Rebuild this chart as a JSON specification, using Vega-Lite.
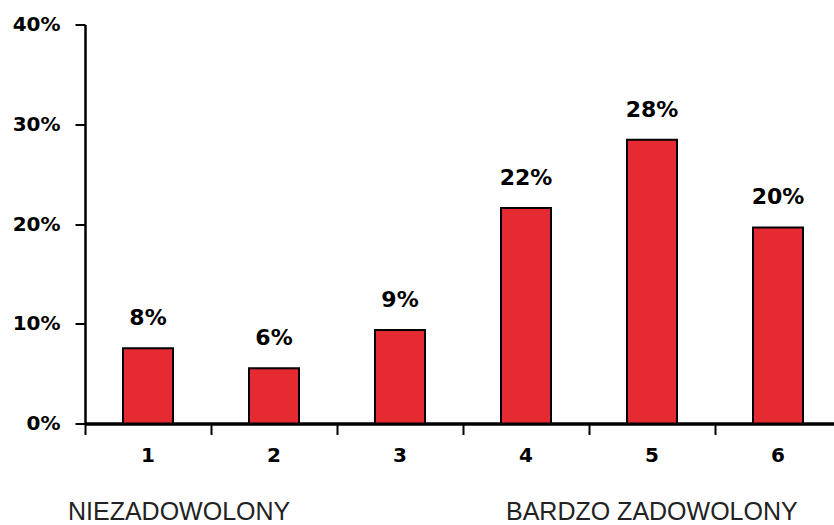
{
  "$schema": "https://vega.github.io/schema/vega-lite/v6.json",
  "autosize": {"type": "none"},
  "width": 749,
  "height": 399,
  "padding": {"left": 85, "top": 24.5, "right": 0, "bottom": 101.5},
  "background": "white",
  "config": {"view": {"stroke": null}, "font": "DejaVu Sans"},
  "datasets": {
    "bars": [
      {"cat": "1", "value": 7.55, "label": "8%"},
      {"cat": "2", "value": 5.54, "label": "6%"},
      {"cat": "3", "value": 9.38, "label": "9%"},
      {"cat": "4", "value": 21.6, "label": "22%"},
      {"cat": "5", "value": 28.45, "label": "28%"},
      {"cat": "6", "value": 19.65, "label": "20%"}
    ],
    "notes": [
      {"cat": "1", "note": "NIEZADOWOLONY", "pos": -9.67},
      {"cat": "4", "note": "BARDZO ZADOWOLONY", "pos": -9.67}
    ]
  },
  "layer": [
    {
      "data": {"name": "bars"},
      "encoding": {
        "x": {
          "field": "cat", "type": "ordinal",
          "scale": {"range": [0, 756], "paddingInner": 0, "paddingOuter": 0},
          "axis": {
            "title": null, "labelAngle": 0, "bandPosition": 0,
            "domainColor": "black", "domainWidth": 3.5,
            "tickColor": "black", "tickWidth": 2, "tickSize": 11,
            "labelFont": "DejaVu Sans", "labelFontWeight": "bold", "labelFontSize": 20,
            "labelColor": "black", "labelPadding": 11, "labelBaseline": "top"
          }
        },
        "y": {
          "field": "value", "type": "quantitative",
          "scale": {"domain": [0, 40], "nice": false, "zero": true},
          "axis": {
            "title": null, "values": [0, 10, 20, 30, 40], "grid": false,
            "labelExpr": "datum.value + '%'",
            "domainColor": "black", "domainWidth": 2.5,
            "tickColor": "black", "tickWidth": 2, "tickSize": 10,
            "labelFont": "DejaVu Sans", "labelFontWeight": "bold", "labelFontSize": 20,
            "labelColor": "black", "labelPadding": 15
          }
        }
      },
      "layer": [
        {"mark": {"type": "bar", "width": 50, "fill": "#E52A31", "stroke": "black", "strokeWidth": 2}},
        {
          "mark": {"type": "text", "baseline": "alphabetic", "dy": -23, "font": "DejaVu Sans", "fontWeight": "bold", "fontSize": 22, "fill": "black"},
          "encoding": {"text": {"field": "label"}}
        }
      ]
    },
    {
      "data": {"name": "notes"},
      "transform": [{"filter": "datum.cat == '1'"}],
      "mark": {"type": "text", "align": "left", "baseline": "alphabetic", "dx": -80, "font": "Liberation Sans", "fontSize": 25, "fill": "#222222", "clip": false},
      "encoding": {
        "x": {"field": "cat", "type": "ordinal"},
        "y": {"field": "pos", "type": "quantitative"},
        "text": {"field": "note"}
      }
    },
    {
      "data": {"name": "notes"},
      "transform": [{"filter": "datum.cat == '4'"}],
      "mark": {"type": "text", "align": "left", "baseline": "alphabetic", "dx": -20, "font": "Liberation Sans", "fontSize": 25, "fill": "#222222", "clip": false},
      "encoding": {
        "x": {"field": "cat", "type": "ordinal"},
        "y": {"field": "pos", "type": "quantitative"},
        "text": {"field": "note"}
      }
    }
  ]
}
